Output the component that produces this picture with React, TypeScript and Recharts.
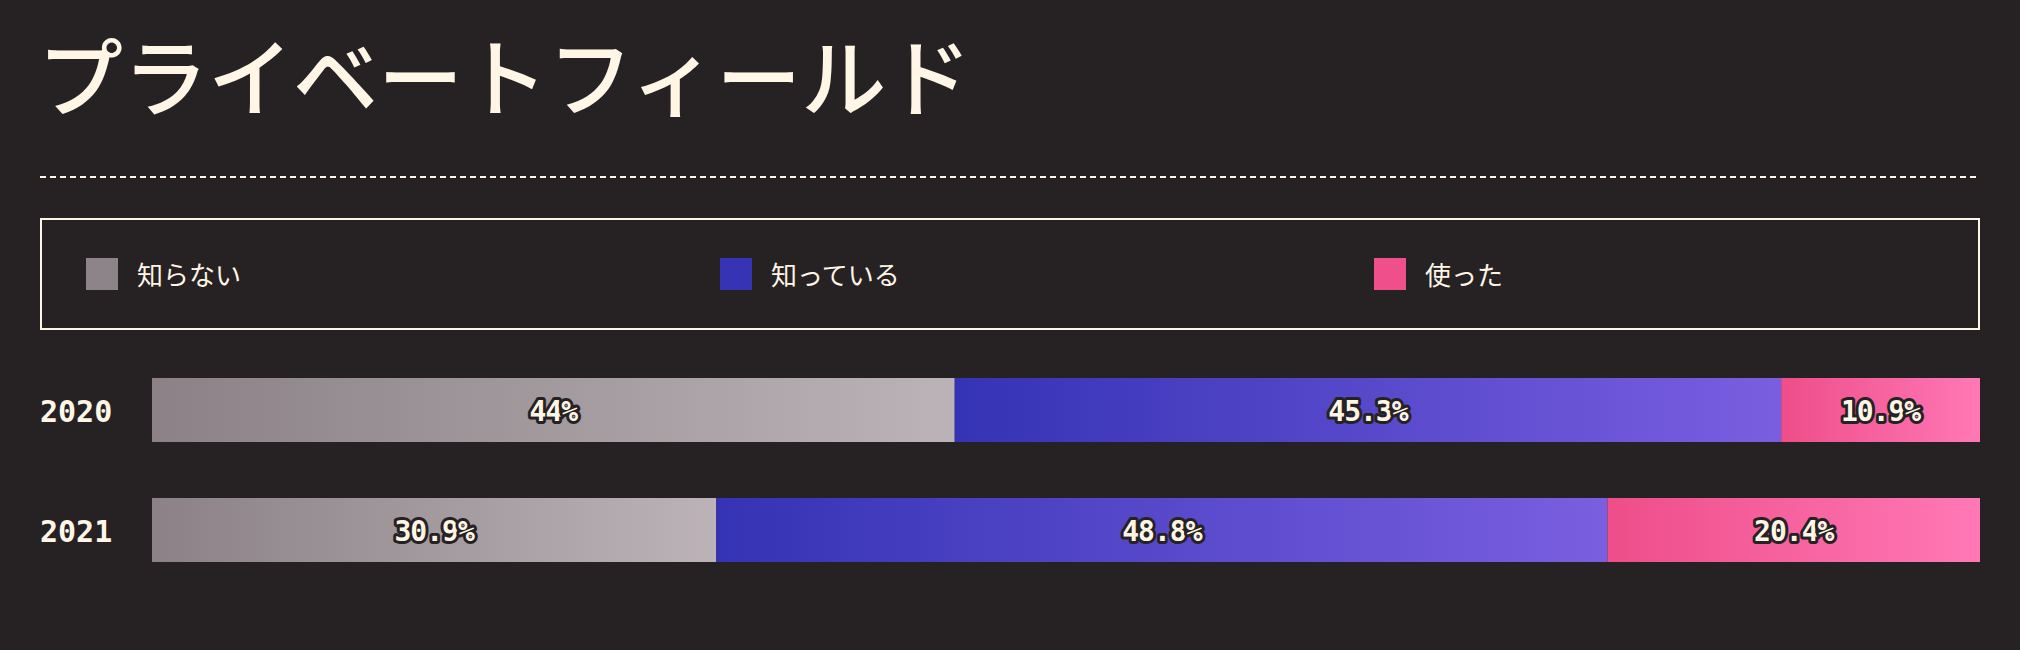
import { Bar, BarChart, LabelList, Legend, XAxis, YAxis } from "recharts";

const years = ["2020", "2021"];
const unknownPct = [44, 30.9];
const knownPct = [45.3, 48.8];
const usedPct = [10.9, 20.4];

const seriesKeys = ["unknown", "known", "used"];
const seriesNames = ["知らない", "知っている", "使った"];
const swatchColors = ["#8d8489", "#3634b4", "#ef4f8b"];
const gradientStops = [
  ["#8b8186", "#bbb3b7"],
  ["#3533b5", "#7a5ee0"],
  ["#ee4e8a", "#ff78b5"]
];

const data = years.map((year, i) => ({
  year,
  unknown: unknownPct[i],
  known: knownPct[i],
  used: usedPct[i]
}));

const BG = "#262224";
const CREAM = "#fff6e6";
const MONO = "'DejaVu Sans Mono', monospace";
const JP = "'Noto Sans CJK JP', 'Noto Sans', sans-serif";

// spacing of the legend items inside the box
const legendItemWidths = [634, 654, undefined];

function renderLegend() {
  return (
    <div
      style={{
        boxSizing: "border-box",
        height: 112,
        width: 1940,
        border: `2px solid ${CREAM}`,
        display: "flex",
        alignItems: "center",
        paddingLeft: 44
      }}
    >
      {seriesNames.map((name, i) => (
        <div
          key={name}
          style={{
            display: "flex",
            alignItems: "center",
            width: legendItemWidths[i],
            flexShrink: 0
          }}
        >
          <span
            style={{
              display: "inline-block",
              width: 32,
              height: 32,
              background: swatchColors[i],
              marginRight: 19
            }}
          />
          <span style={{ color: CREAM, fontFamily: JP, fontSize: 26, lineHeight: "30px" }}>
            {name}
          </span>
        </div>
      ))}
    </div>
  );
}

function renderValue(props: any) {
  const vb = props.viewBox || props;
  const { x, y, width, height } = vb;
  return (
    <text
      x={x + width / 2}
      y={y + height / 2 + 1}
      textAnchor="middle"
      dominantBaseline="central"
      fill={CREAM}
      stroke={BG}
      strokeWidth={6}
      strokeLinejoin="round"
      paintOrder="stroke"
      fontFamily={MONO}
      fontWeight="bold"
      fontSize={28}
      letterSpacing={-1}
    >
      {props.value}%
    </text>
  );
}

function YearTick(props: any) {
  const { y, payload } = props;
  return (
    <text
      x={40}
      y={y + 1}
      dominantBaseline="central"
      fill={CREAM}
      fontFamily={MONO}
      fontWeight="bold"
      fontSize={30}
    >
      {payload.value}
    </text>
  );
}

export default function App() {
  return (
    <div
      style={{
        position: "absolute",
        left: 0,
        top: 0,
        width: 2020,
        height: 650,
        background: BG,
        overflow: "hidden"
      }}
    >
      <h1
        style={{
          position: "absolute",
          left: 38,
          top: 30,
          margin: 0,
          fontFamily: JP,
          fontWeight: 500,
          fontSize: 85,
          lineHeight: "85px",
          color: CREAM,
          whiteSpace: "nowrap"
        }}
      >
        プライベートフィールド
      </h1>
      <svg
        style={{ position: "absolute", left: 40, top: 176 }}
        width={1940}
        height={2}
      >
        <line x1={0} y1={1} x2={1940} y2={1} stroke={CREAM} strokeWidth={2} strokeDasharray="6 4" />
      </svg>
      <div style={{ position: "absolute", left: 0, top: 218 }}>
        <BarChart
          width={2020}
          height={432}
          data={data}
          layout="vertical"
          stackOffset="expand"
          barSize={64}
          margin={{ top: 20, right: 40, bottom: 60, left: 40 }}
        >
          <defs>
            {gradientStops.map((stops, i) => (
              <linearGradient key={i} id={`grad${i}`} x1="0" y1="0" x2="1" y2="0">
                <stop offset="0%" stopColor={stops[0]} />
                <stop offset="100%" stopColor={stops[1]} />
              </linearGradient>
            ))}
          </defs>
          <XAxis type="number" hide />
          <YAxis
            type="category"
            dataKey="year"
            width={112}
            axisLine={false}
            tickLine={false}
            tick={<YearTick />}
          />
          <Legend
            verticalAlign="top"
            align="left"
            content={renderLegend}
            wrapperStyle={{ top: 0, left: 40, width: 1940 }}
          />
          {seriesKeys.map((key, i) => (
            <Bar
              key={key}
              dataKey={key}
              name={seriesNames[i]}
              stackId="a"
              fill={`url(#grad${i})`}
              isAnimationActive={false}
            >
              <LabelList dataKey={key} content={renderValue} />
            </Bar>
          ))}
        </BarChart>
      </div>
    </div>
  );
}
